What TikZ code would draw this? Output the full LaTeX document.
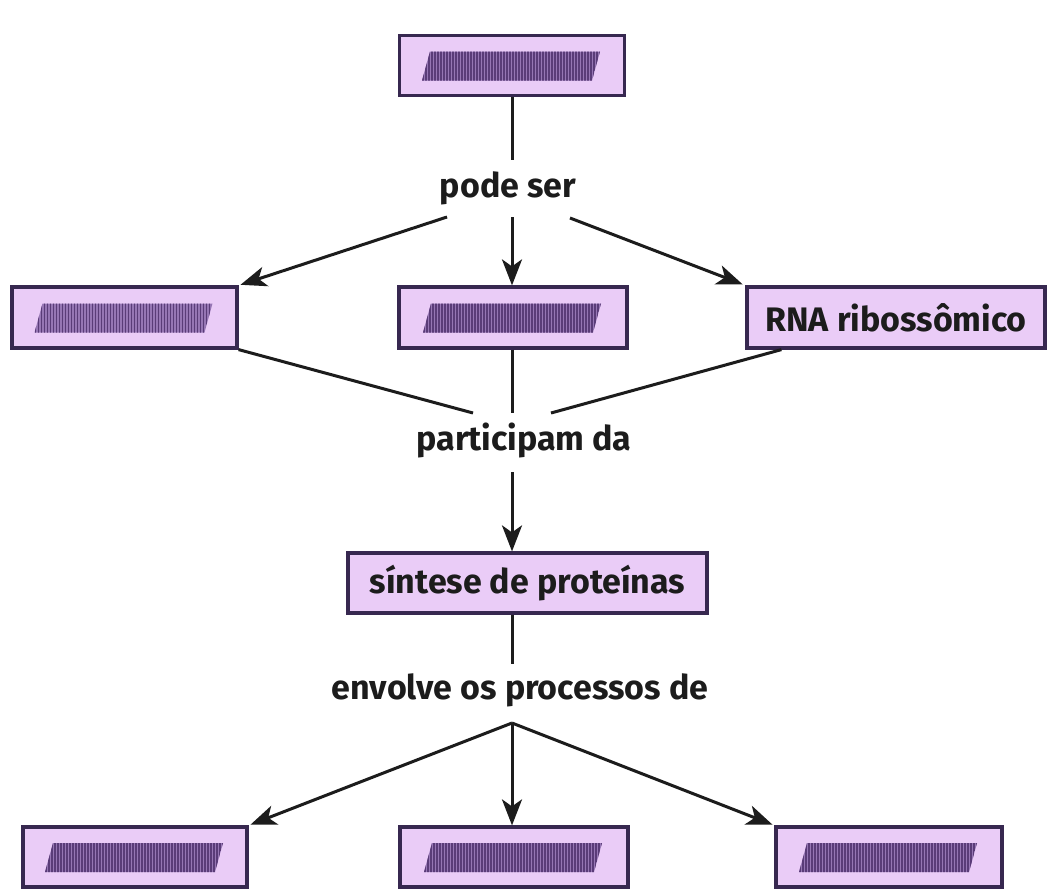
\documentclass[tikz,border=0pt]{standalone}
\usepackage{fontspec}
\setmainfont{Fira Sans}
\usetikzlibrary{arrows.meta,calc}
\definecolor{boxfill}{RGB}{234,204,247}
\definecolor{boxdraw}{RGB}{55,40,80}
\definecolor{hatchfill}{RGB}{150,118,180}
\definecolor{hatchline}{RGB}{90,60,120}
\definecolor{ink}{RGB}{28,28,28}
\tikzset{
  box/.style={draw=boxdraw, fill=boxfill, line width=3.2pt, inner sep=0pt, minimum height=60pt},
  lbl/.style={text=ink, font=\fontsize{34}{40}\selectfont\bfseries, inner sep=0pt},
  conn/.style={draw=ink, line width=3pt},
  arr/.style={conn, -{Stealth[length=26pt,width=20pt,inset=7pt]}},
}
\newcommand{\hatchbox}[1]{%
  \begin{scope}[shift={(#1.center)}]
    \fill[hatchfill] (-82,-14) -- (88,-14) -- (80,15) -- (-90,15) -- cycle;
    \begin{scope}
      \clip (-82,-14) -- (88,-14) -- (80,15) -- (-90,15) -- cycle;
      \foreach \i in {-92,-89,...,90} \draw[hatchline, line width=1.7pt] (\i,-16) -- (\i,17);
    \end{scope}
  \end{scope}}
\begin{document}
\begin{tikzpicture}[x=1pt,y=-1pt]
\useasboundingbox (0,0) rectangle (1048,889);
\fill[white] (0,0) rectangle (1048,889);

% boxes
\node[box, minimum width=225pt] (top) at (512,65.5) {};
\node[box, minimum width=225pt, minimum height=61pt] (L1) at (124.5,317.5) {};
\node[box, minimum width=228pt, minimum height=61pt] (M1) at (513,317.5) {};
\node[box, minimum width=298pt, minimum height=61pt, font=\fontsize{34}{40}\selectfont\bfseries, text=ink] (R1) at (896,317.5) {RNA ribossômico};
\node[box, minimum width=359pt, font=\fontsize{34}{40}\selectfont\bfseries, text=ink] (S) at (527.5,583) {síntese de proteínas};
\node[box, minimum width=224pt] (B1) at (135,857) {};
\node[box, minimum width=228pt] (B2) at (514,857) {};
\node[box, minimum width=226pt] (B3) at (889,857) {};

\hatchbox{top}
\hatchbox{L1}
\hatchbox{M1}
\hatchbox{B1}
\hatchbox{B2}
\hatchbox{B3}

% labels
\node[lbl] (pode) at (508,188) {pode ser};
\node[lbl] (part) at (524,440) {participam da};
\node[lbl] (env) at (520,690) {envolve os processos de};

% connector points
\coordinate (psn) at (512,160);
\coordinate (psl) at (447,217);
\coordinate (psc) at (512,217);
\coordinate (psr) at (570,218);
\coordinate (pdl) at (473,413);
\coordinate (pdc) at (512,413);
\coordinate (pdr) at (551,413);
\coordinate (pds) at (512,472);
\coordinate (evn) at (512,664);
\coordinate (evs) at (512,723);

% connectors
\draw[conn] (top.south) -- (psn);
\draw[arr, shorten >=2pt] (psl) -- (L1.north east);
\draw[arr] (psc) -- (psc |- M1.north);
\draw[arr, shorten >=3pt] (psr) -- (R1.north west);

\draw[conn] (L1.south east) -- (pdl);
\draw[conn] (pdc |- M1.south) -- (pdc);
\draw[conn] ($(R1.south west)+(36,0)$) -- (pdr);
\draw[arr] (pds) -- (pds |- S.north);

\draw[conn] (evn |- S.south) -- (evn);
\draw[arr, shorten >=2pt] (evs) -- (B1.north east);
\draw[arr] (evs) -- (evs |- B2.north);
\draw[arr, shorten >=2pt] (evs) -- (B3.north west);
\end{tikzpicture}
\end{document}
